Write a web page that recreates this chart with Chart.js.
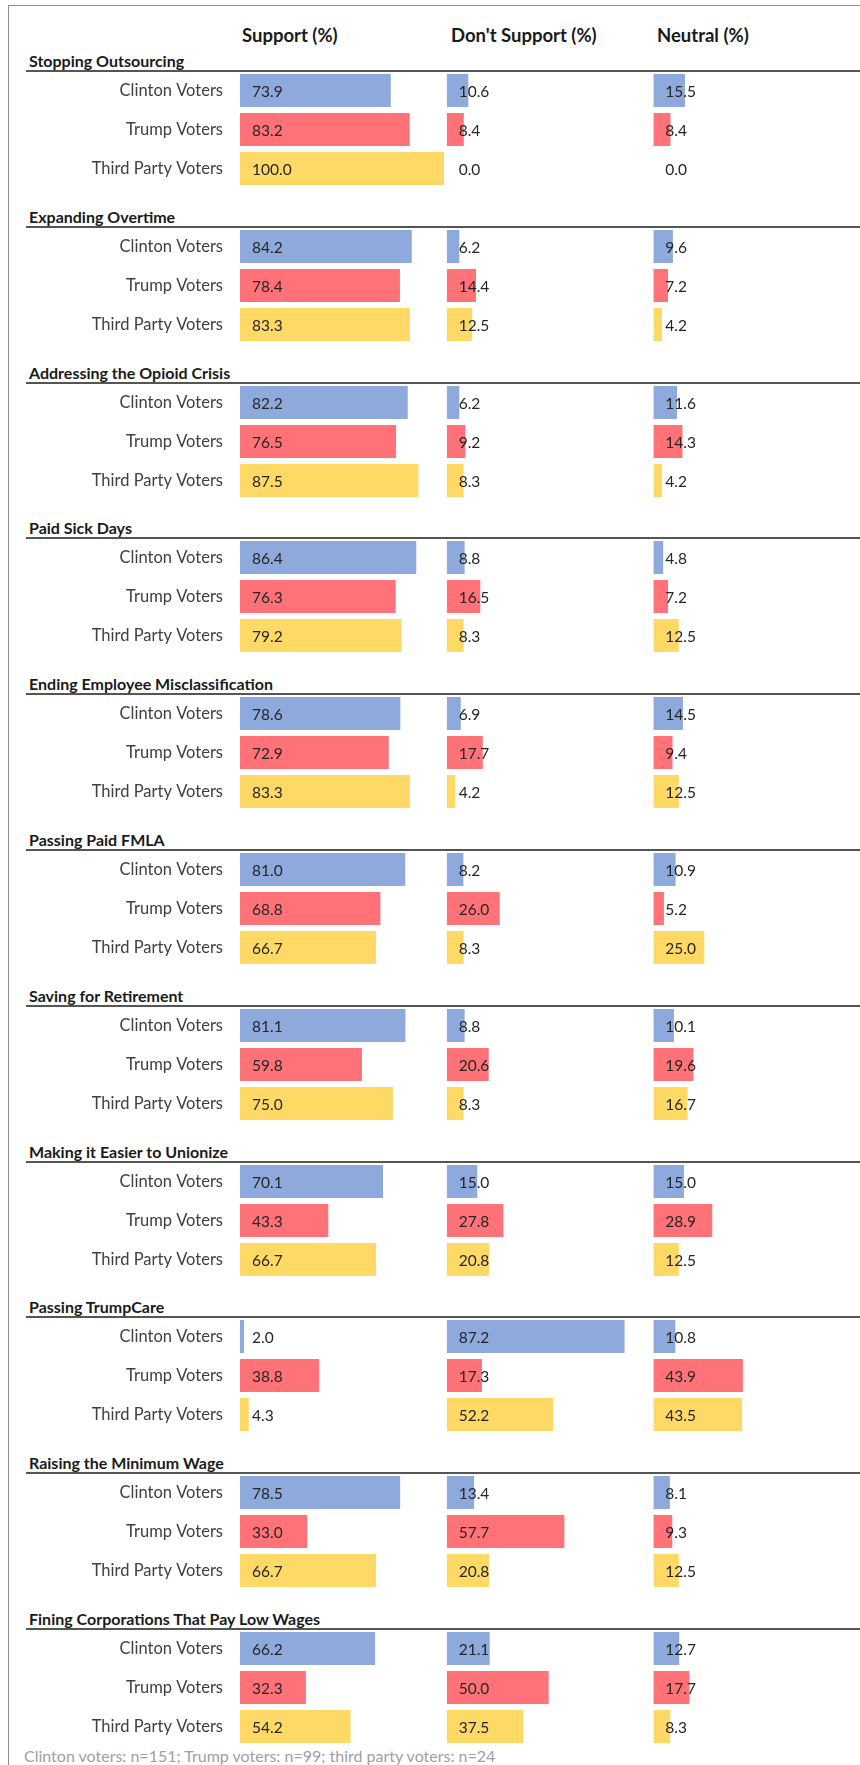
<!DOCTYPE html>
<html>
<head>
<meta charset="utf-8">
<title>Support for Worker Policies by Voter Group</title>
<script src="https://cdn.jsdelivr.net/npm/chart.js"></script>
<style>
  body { margin: 0; background: #fff; font-family: Lato, 'Open Sans', sans-serif; }
  #page { position: relative; width: 860px; height: 1765px; overflow: hidden; }
  .frame {
    position: absolute; left: 8px; top: 5px; right: -4px; bottom: -4px;
    border-left: 1.5px solid #8c8c8c; border-top: 1.5px solid #8c8c8c;
  }
  .head { position: absolute; top: 24px; font-weight: bold; font-size: 18.5px; line-height: 22px; color: #1a1a1a; }
  .section { position: absolute; left: 0; width: 860px; height: 117px; }
  .section h2 {
    position: absolute; left: 29px; top: -20px; margin: 0;
    font-size: 16px; line-height: 19px; font-weight: bold; color: #1a1a1a; white-space: nowrap;
  }
  .section .rule { position: absolute; left: 26px; right: 0; top: -1px; border-top: 2px solid #555; }
  .section canvas { position: absolute; left: 0; top: 0; }
  .note { position: absolute; left: 24px; top: 1747px; font-size: 16px; line-height: 18px; color: #a0a0a0; }
</style>
</head>
<body>
<div id="page">
  <div class="frame"></div>
  <div class="head" style="left:242px">Support (%)</div>
  <div class="head" style="left:451px">Don't Support (%)</div>
  <div class="head" style="left:657px">Neutral (%)</div>
  <div id="sections"></div>
  <div class="note">Clinton voters: n=151; Trump voters: n=99; third party voters: n=24</div>
</div>

<script>
const topics = [
    'Stopping Outsourcing',
    'Expanding Overtime',
    'Addressing the Opioid Crisis',
    'Paid Sick Days',
    'Ending Employee Misclassification',
    'Passing Paid FMLA',
    'Saving for Retirement',
    'Making it Easier to Unionize',
    'Passing TrumpCare',
    'Raising the Minimum Wage',
    'Fining Corporations That Pay Low Wages'
];
const groups = ['Clinton Voters', 'Trump Voters', 'Third Party Voters'];

// one [Clinton, Trump, Third Party] triple per topic
const supportValues = [
    [73.9, 83.2, 100.0],
    [84.2, 78.4, 83.3],
    [82.2, 76.5, 87.5],
    [86.4, 76.3, 79.2],
    [78.6, 72.9, 83.3],
    [81.0, 68.8, 66.7],
    [81.1, 59.8, 75.0],
    [70.1, 43.3, 66.7],
    [2.0, 38.8, 4.3],
    [78.5, 33.0, 66.7],
    [66.2, 32.3, 54.2]
];
const dontSupportValues = [
    [10.6, 8.4, 0.0],
    [6.2, 14.4, 12.5],
    [6.2, 9.2, 8.3],
    [8.8, 16.5, 8.3],
    [6.9, 17.7, 4.2],
    [8.2, 26.0, 8.3],
    [8.8, 20.6, 8.3],
    [15.0, 27.8, 20.8],
    [87.2, 17.3, 52.2],
    [13.4, 57.7, 20.8],
    [21.1, 50.0, 37.5]
];
const neutralValues = [
    [15.5, 8.4, 0.0],
    [9.6, 7.2, 4.2],
    [11.6, 14.3, 4.2],
    [4.8, 7.2, 12.5],
    [14.5, 9.4, 12.5],
    [10.9, 5.2, 25.0],
    [10.1, 19.6, 16.7],
    [15.0, 28.9, 12.5],
    [10.8, 43.9, 43.5],
    [8.1, 9.3, 12.5],
    [12.7, 17.7, 8.3]
];

const groupColors = ['#8EA9DB', '#FF7378', '#FFD966'];
const firstRuleY = 71;
const sectionStep = 155.8;
const axisMax = 101.3;

// writes the value just inside the start of each bar
const valueLabels = {
    id: 'valueLabels',
    afterDatasetsDraw(chart) {
        const ctx = chart.ctx;
        ctx.save();
        ctx.font = '15.5px Lato';
        ctx.fillStyle = '#262626';
        ctx.textBaseline = 'middle';
        chart.data.datasets.forEach((ds, di) => {
            const x0 = chart.scales[ds.xAxisID].getPixelForValue(0);
            chart.getDatasetMeta(di).data.forEach((bar, j) => {
                ctx.fillText(ds.data[j].toFixed(1), x0 + 12, bar.y + 1);
            });
        });
        ctx.restore();
    }
};

function columnAxis() {
    return { type: 'linear', position: 'bottom', stack: 'cols', min: 0, max: axisMax, display: false };
}

const holder = document.getElementById('sections');

topics.forEach((topic, i) => {
    const sec = document.createElement('div');
    sec.className = 'section';
    sec.style.top = (firstRuleY + i * sectionStep) + 'px';
    sec.innerHTML = `<h2>${topic}</h2><div class="rule"></div><canvas width="860" height="117"></canvas>`;
    holder.appendChild(sec);

    const bar = (values, axis) => ({
        data: values[i],
        backgroundColor: groupColors,
        xAxisID: axis,
        grouped: false,
        borderWidth: 0,
        categoryPercentage: 1,
        barPercentage: 0.85
    });

    new Chart(sec.querySelector('canvas'), {
        type: 'bar',
        data: {
            labels: groups,
            datasets: [
                bar(supportValues, 'xS'),
                bar(dontSupportValues, 'xD'),
                bar(neutralValues, 'xN')
            ]
        },
        options: {
            indexAxis: 'y',
            responsive: false,
            animation: false,
            layout: { padding: 0 },
            plugins: { legend: { display: false }, tooltip: { enabled: false } },
            scales: {
                xS: columnAxis(),
                xD: columnAxis(),
                xN: columnAxis(),
                y: {
                    type: 'category',
                    grid: { display: false, drawTicks: false },
                    border: { display: false },
                    ticks: { color: '#404040', padding: 17, font: { family: 'Lato', size: 16.5 } },
                    afterFit: (s) => {
                        s.width = 240;
                        s.paddingTop = 0;
                        s.paddingBottom = 0;
                    }
                }
            }
        },
        plugins: [valueLabels]
    });
});
</script>
</body>
</html>
